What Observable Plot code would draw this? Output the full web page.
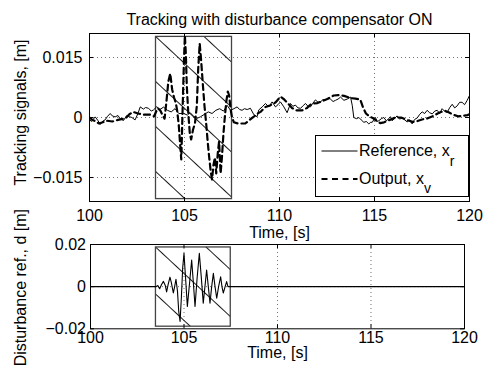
<!DOCTYPE html>
<html><head><meta charset="utf-8">
<script src="https://cdn.jsdelivr.net/npm/d3@7"></script>
<script src="https://cdn.jsdelivr.net/npm/@observablehq/plot@0.6"></script>
<style>
body{margin:0;background:#fff;}
#wrap{position:relative;width:488px;height:366px;font-family:"Liberation Sans",Arial,sans-serif;background:#fff;overflow:hidden;}
#wrap svg{position:absolute;left:0;top:0;}
</style></head><body>
<svg width="0" height="0" style="position:absolute">
<defs>
<pattern id="hatchTop" patternUnits="userSpaceOnUse" width="200" height="32.96">
<line x1="0" y1="16.48" x2="200" y2="16.48" stroke="#000" stroke-width="0.9"/></pattern>
<pattern id="hatchBot" patternUnits="userSpaceOnUse" width="200" height="34.4">
<line x1="0" y1="17.2" x2="200" y2="17.2" stroke="#000" stroke-width="0.9"/></pattern>
</defs></svg>
<div id="wrap"></div>
<script>
// ---- data (time in s, signals in m) ----
const refT = [100.0,100.1,100.3,100.45,100.56,100.7,100.82,100.95,101.09,101.2,101.35,101.5,101.61,101.79,101.96,102.1,102.23,102.4,102.55,102.67,102.84,102.95,103.11,103.25,103.37,103.54,103.7,103.9,104.1,104.3,104.5,104.7,104.96,105.15,105.3,105.5,105.67,105.85,106.05,106.25,106.45,106.65,106.85,107.05,107.25,107.42,107.6,107.77,107.9,108.03,108.15,108.3,108.47,108.65,108.82,108.91,109.09,109.26,109.44,109.61,109.79,109.92,110.05,110.23,110.4,110.58,110.7,110.84,110.97,111.11,111.25,111.37,111.5,111.63,111.76,111.89,112.03,112.16,112.29,112.42,112.55,112.68,112.82,112.95,113.08,113.21,113.39,113.56,113.74,113.83,113.91,114.05,114.18,114.3,114.44,114.57,114.7,114.8,114.88,114.97,115.05,115.14,115.23,115.36,115.49,115.62,115.75,115.84,115.93,116.06,116.19,116.32,116.46,116.59,116.72,116.85,116.98,117.11,117.25,117.38,117.51,117.64,117.77,117.9,118.04,118.17,118.3,118.43,118.56,118.7,118.83,118.96,119.09,119.22,119.35,119.48,119.61,119.74,119.88,120.0];
const refX = [-0.0005,-0.0010,0.00015,-0.0008,-0.00175,-0.0009,-0.0006,0.0003,0.0010,0.0004,0.00015,0.0005,-0.0003,-0.00075,0.0005,0.0002,0.0,-0.0006,0.0010,0.00265,0.0021,0.0025,0.0023,0.0016,0.0019,0.0027,0.0020,0.0026,0.0018,0.0014,0.0022,0.0010,0.0010,0.0006,0.0012,0.0002,-0.0002,0.0002,0.0008,0.0014,0.0010,0.0018,0.0022,0.0016,0.0030,0.0018,0.0022,0.00265,0.0020,0.0018,0.0022,0.0020,0.0023,0.0007,0.0002,0.0019,0.00265,0.0035,0.00265,0.0039,0.00265,0.0032,0.0039,0.00265,0.0012,0.0035,0.0028,0.0031,0.0024,0.0023,0.0030,0.0035,0.0028,0.00265,0.0036,0.0044,0.0038,0.0039,0.0045,0.0043,0.0049,0.0046,0.0040,0.0043,0.0046,0.0051,0.0043,0.0046,0.0051,0.0030,0.0,-0.0003,0.0,-0.0006,-0.0012,-0.0010,-0.0016,-0.0012,-0.0012,-0.0005,0.0,-0.0010,-0.0008,-0.0003,0.0,-0.0008,-0.0003,0.0002,-0.0008,-0.0002,0.0004,-0.0004,-0.0001,-0.0006,-0.0011,-0.0006,-0.0016,-0.0005,-0.0001,0.0008,0.0014,0.0010,0.0018,0.0012,0.0009,0.0016,0.0018,0.0010,0.0022,0.0015,0.0013,0.0025,0.0033,0.0024,0.0029,0.0038,0.0038,0.0032,0.0043,0.0055];

const outT = [100.0,100.15,100.3,100.5,100.7,100.9,101.2,101.5,101.9,102.1,102.3,102.55,102.9,103.2,103.4,103.5,103.6,103.72,103.85,103.95,104.05,104.15,104.25,104.35,104.45,104.55,104.62,104.7,104.76,104.83,104.9,104.97,105.02,105.07,105.12,105.2,105.28,105.35,105.45,105.55,105.65,105.72,105.8,105.88,105.97,106.05,106.15,106.22,106.3,106.38,106.45,106.52,106.6,106.67,106.75,106.82,106.9,106.97,107.05,107.12,107.2,107.28,107.35,107.43,107.5,107.6,107.8,108.2,108.45,108.65,108.85,109.0,109.25,109.5,109.8,110.05,110.25,110.45,110.65,110.9,111.2,111.45,111.7,112.0,112.3,112.55,112.85,113.1,113.4,113.7,114.0,114.25,114.4,114.55,114.75,114.9,115.1,115.3,115.5,115.8,116.1,116.4,116.7,117.0,117.2,117.5,117.8,118.1,118.4,118.7,118.9,119.2,119.4,119.65,119.9,120.0];
const outX = [0.0,-0.0006,-0.0009,-0.0015,-0.0012,-0.0008,-0.0010,-0.0006,-0.0002,0.0008,0.0014,0.0010,0.0007,0.0007,0.0003,0.0014,0.0023,0.0018,0.0005,-0.0003,0.0040,0.0090,0.0110,0.0070,0.0050,0.0035,0.0015,-0.0020,-0.0060,-0.0105,0.0020,0.0140,0.0205,0.0160,0.0080,0.0010,-0.0040,-0.0055,-0.0030,-0.0015,0.0030,0.0120,0.0185,0.0140,0.0080,0.0030,-0.0020,-0.0060,-0.0100,-0.0135,-0.0155,-0.0120,-0.0100,-0.0140,-0.0090,-0.0060,-0.0140,-0.0100,-0.0040,0.0,0.0040,0.0065,0.0055,0.0020,0.0,-0.0012,-0.0015,-0.0015,-0.0005,0.0002,0.0010,0.0014,0.0026,0.0030,0.0038,0.0052,0.0045,0.0035,0.0024,0.0018,0.0018,0.0024,0.0035,0.0036,0.0042,0.0047,0.0055,0.0056,0.0054,0.0049,0.0047,0.0045,0.0025,0.0010,0.0002,-0.0001,-0.0008,-0.0014,-0.0012,-0.0006,0.0,0.0,-0.0006,-0.0011,-0.0010,-0.0005,-0.0002,0.0004,0.0012,0.0017,0.0013,0.0006,0.0003,0.0004,0.0006,0.0008];

const distT = [100.0,103.5,103.6,103.7,103.8,103.9,104.0,104.07,104.15,104.25,104.32,104.43,104.5,104.57,104.65,104.72,104.79,104.86,104.93,105.0,105.07,105.18,105.3,105.41,105.5,105.59,105.7,105.82,105.92,106.03,106.12,106.21,106.3,106.39,106.48,106.57,106.66,106.75,106.85,106.96,107.03,107.1,107.2,107.28,107.35,107.42,120.0];
const distD = [0,0,0.0005,-0.001,0.001,0.0025,0.0005,-0.0025,0.001,0.0045,0.002,-0.003,0.0,0.0035,-0.002,-0.012,-0.0165,-0.005,0.009,0.0158,0.006,-0.0094,0.002,0.0126,0.002,-0.0094,0.004,0.0158,0.005,-0.0078,0.0,0.0079,0.0,-0.0078,0.0,0.0063,0.0,-0.0055,0.0,0.0047,0.0,-0.003,0.0,0.0024,0.0,0.0,0];

const xTicks = [100,105,110,115,120];
const xTickLabels = ["100","105","110","115","120"];
const gridX = [105,110,115];
const topYTicks = [-0.015,0,0.015];
const topYTickLabels = ["\u22120.015","0","0.015"];
const botYTicks = [-0.02,0,0.02];
const botYTickLabels = ["\u22120.02","0","0.02"];
const boxT = [103.5,107.5];
const topBoxY = [-0.0204,0.02015];
const botBoxY = [-0.019,0.0186];
const title = "Tracking with disturbance compensator ON";
const topYLabel = "Tracking signals, [m]";
const botYLabel = "Disturbance ref., d [m]";
const xLabel = "Time, [s]";

// ---- layout ----
const W = 488, H = 366;
const xDom = [100,120];
const topYDom = [-0.021,0.021];
const botYDom = [-0.02,0.02];
const font = "Liberation Sans, Arial, sans-serif";

const refData = refT.map((t,i)=>({t, v: refX[i]}));
const outData = outT.map((t,i)=>({t, v: outX[i]}));
const distData = distT.map((t,i)=>({t, v: distD[i]}));

function panel(o){
  const fw = W - o.ml - o.mr, fh = H - o.mt - o.mb;
  const tyl = (o.yDom[1]-o.yDom[0]) * 4 / fh;   // 4px inward tick
  const txl = (xDom[1]-xDom[0]) * 4 / fw;
  const marks = [
    Plot.ruleX(gridX, {x: d=>d, stroke:"#000", strokeOpacity:0.7, strokeWidth:0.8, strokeDasharray:"1,3"}),
    Plot.ruleY(o.yTicks.filter(d=>d>o.yDom[0]&&d<o.yDom[1]), {y: d=>d, stroke:"#000", strokeOpacity:0.7, strokeWidth:0.8, strokeDasharray:"1,3"}),
    Plot.rect([{a:boxT[0], b:boxT[1], c:o.boxY[0], d:o.boxY[1]}], {x1:"a", x2:"b", y1:"c", y2:"d", fill:`url(#${o.hatch})`, stroke:"#444", strokeWidth:1.3}),
    ...o.lines,
    Plot.ruleX(xTicks, {x:d=>d, y1:o.yDom[0], y2:o.yDom[0]+tyl, stroke:"#000"}),
    Plot.ruleX(xTicks, {x:d=>d, y1:o.yDom[1]-tyl, y2:o.yDom[1], stroke:"#000"}),
    Plot.ruleY(o.yTicks, {y:d=>d, x1:xDom[0], x2:xDom[0]+txl, stroke:"#000"}),
    Plot.ruleY(o.yTicks, {y:d=>d, x1:xDom[1]-txl, x2:xDom[1], stroke:"#000"}),
    Plot.frame({stroke:"#000", strokeWidth:1}),
    Plot.text(xTicks, {x:d=>d, text:(d,i)=>xTickLabels[i], frameAnchor:"bottom", lineAnchor:"top", dy:o.xtDy, fontSize:16, fill:"#000"}),
    Plot.text(o.yTicks, {y:d=>d, text:(d,i)=>o.yLabels[i], frameAnchor:"left", textAnchor:"end", dx:o.ytDx, fontSize:16, fill:"#000"}),
    Plot.text([xLabel], {text:d=>d, frameAnchor:"bottom", lineAnchor:"top", dy:o.xlDy, fontSize:16, fill:"#000"}),
    Plot.text([o.yLabel], {text:d=>d, frameAnchor:"left", textAnchor:"middle", rotate:-90, dx:o.ylDx, dy:o.ylDy, fontSize:16, fill:"#000"}),
    ...(o.extra||[])
  ];
  return Plot.plot({
    width: W, height: H,
    marginLeft:o.ml, marginRight:o.mr, marginTop:o.mt, marginBottom:o.mb,
    x:{domain:xDom, axis:null},
    y:{domain:o.yDom, axis:null},
    style:{background:"transparent", fontFamily:font, overflow:"visible"},
    marks
  });
}

const topChart = panel({
  ml:89, mr:19, mt:33, mb:165, yDom:topYDom, yTicks:topYTicks, yLabels:topYTickLabels,
  boxY:topBoxY, hatch:"hatchTop", xtDy:8.5, ytDx:-7, xlDy:25.5, ylDx:-69, ylDy:-5, yLabel:topYLabel,
  lines:[
    Plot.line(refData, {x:"t", y:"v", stroke:"#000", strokeWidth:1, clip:true}),
    Plot.line(outData, {x:"t", y:"v", stroke:"#000", strokeWidth:2.2, strokeDasharray:"6,4", clip:true})
  ],
  extra:[Plot.text([title], {text:d=>d, frameAnchor:"top", lineAnchor:"top", dy:-20, fontSize:16, fill:"#000"})]
});
const botChart = panel({
  ml:90, mr:24, mt:244, mb:37.7, yDom:botYDom, yTicks:botYTicks, yLabels:botYTickLabels,
  boxY:botBoxY, hatch:"hatchBot", xtDy:2.5, ytDx:-4.5, xlDy:18, ylDx:-70, ylDy:1, yLabel:botYLabel,
  lines:[
    Plot.line(distData, {x:"t", y:"v", stroke:"#000", strokeWidth:1.1, clip:true})
  ]
});
const wrap = document.getElementById("wrap");
wrap.appendChild(topChart);
wrap.appendChild(botChart);

// align the hatch patterns with the box corners
function alignHatch(svg, id, S){
  const g = svg.querySelector(`[fill="url(#${id})"]`);
  if(!g) return;
  const r = g.tagName.toLowerCase()==="rect" ? g : g.querySelector("rect");
  const x = +r.getAttribute("x"), y = +r.getAttribute("y");
  document.getElementById(id).setAttribute("patternTransform", `translate(${x},${y}) rotate(42.9) translate(0,${-S/2})`);
}
alignHatch(topChart, "hatchTop", 32.96);
alignHatch(botChart, "hatchBot", 34.4);

// legend
const ns = "http://www.w3.org/2000/svg";
const leg = document.createElementNS(ns, "svg");
leg.setAttribute("width", W); leg.setAttribute("height", H);
leg.innerHTML = `
<rect x="315.5" y="135.5" width="153" height="61" fill="#fff" stroke="#000" stroke-width="1"/>
<line x1="321.5" y1="151" x2="357.5" y2="151" stroke="#000" stroke-width="1"/>
<line x1="321.5" y1="179" x2="357.5" y2="179" stroke="#000" stroke-width="2.2" stroke-dasharray="6,4.5"/>
<text x="359" y="156" font-size="16" font-family="${font}">Reference, x<tspan font-size="14" dy="9.5">r</tspan></text>
<text x="359" y="184.3" font-size="16" font-family="${font}">Output, x<tspan font-size="14" dy="9">v</tspan></text>`;
wrap.appendChild(leg);
</script>
</body></html>
